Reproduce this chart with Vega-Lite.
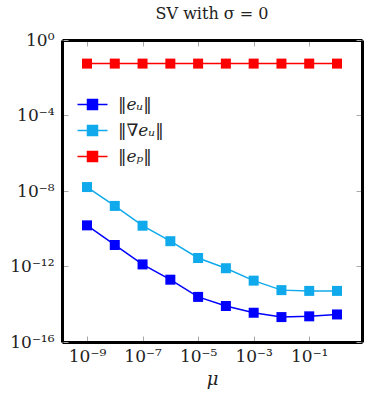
{
  "$schema": "https://vega.github.io/schema/vega-lite/v6.json",
  "width": 300,
  "height": 302,
  "autosize": {"type": "none"},
  "padding": {"left": 62, "top": 40, "right": 4, "bottom": 55},
  "title": {"text": "SV with σ = 0", "font": "DejaVu Serif", "fontSize": 16, "fontWeight": "normal", "offset": 9, "color": "#222"},
  "config": {
    "view": {"stroke": null},
    "font": "DejaVu Serif",
    "axis": {"grid": false, "domain": true, "domainColor": "black", "domainWidth": 3, "tickColor": "#aaaaaa", "tickWidth": 1, "labelFont": "DejaVu Serif", "labelFontSize": 17, "labelColor": "#222", "titleFont": "DejaVu Serif", "titleColor": "#222"}
  },
  "data": {"values": [
    {"mu": 1e-9, "s": "‖eᵤ‖", "v": 1.51e-10},
    {"mu": 1e-8, "s": "‖eᵤ‖", "v": 1.38e-11},
    {"mu": 1e-7, "s": "‖eᵤ‖", "v": 1.29e-12},
    {"mu": 1e-6, "s": "‖eᵤ‖", "v": 2.0e-13},
    {"mu": 1e-5, "s": "‖eᵤ‖", "v": 2.45e-14},
    {"mu": 1e-4, "s": "‖eᵤ‖", "v": 8.1e-15},
    {"mu": 1e-3, "s": "‖eᵤ‖", "v": 3.55e-15},
    {"mu": 1e-2, "s": "‖eᵤ‖", "v": 2.09e-15},
    {"mu": 1e-1, "s": "‖eᵤ‖", "v": 2.29e-15},
    {"mu": 1, "s": "‖eᵤ‖", "v": 2.88e-15},
    {"mu": 1e-9, "s": "‖∇eᵤ‖", "v": 1.62e-8},
    {"mu": 1e-8, "s": "‖∇eᵤ‖", "v": 1.62e-9},
    {"mu": 1e-7, "s": "‖∇eᵤ‖", "v": 1.45e-10},
    {"mu": 1e-6, "s": "‖∇eᵤ‖", "v": 2.19e-11},
    {"mu": 1e-5, "s": "‖∇eᵤ‖", "v": 2.82e-12},
    {"mu": 1e-4, "s": "‖∇eᵤ‖", "v": 8.1e-13},
    {"mu": 1e-3, "s": "‖∇eᵤ‖", "v": 1.78e-13},
    {"mu": 1e-2, "s": "‖∇eᵤ‖", "v": 5.6e-14},
    {"mu": 1e-1, "s": "‖∇eᵤ‖", "v": 5.1e-14},
    {"mu": 1, "s": "‖∇eᵤ‖", "v": 5.1e-14},
    {"mu": 1e-9, "s": "‖eₚ‖", "v": 0.0562},
    {"mu": 1e-8, "s": "‖eₚ‖", "v": 0.0562},
    {"mu": 1e-7, "s": "‖eₚ‖", "v": 0.0562},
    {"mu": 1e-6, "s": "‖eₚ‖", "v": 0.0562},
    {"mu": 1e-5, "s": "‖eₚ‖", "v": 0.0562},
    {"mu": 1e-4, "s": "‖eₚ‖", "v": 0.0562},
    {"mu": 1e-3, "s": "‖eₚ‖", "v": 0.0562},
    {"mu": 1e-2, "s": "‖eₚ‖", "v": 0.0562},
    {"mu": 1e-1, "s": "‖eₚ‖", "v": 0.0562},
    {"mu": 1, "s": "‖eₚ‖", "v": 0.0562}
  ]},
  "resolve": {"axis": {"x": "independent", "y": "independent"}},
  "layer": [
    {
      "mark": {"type": "line", "strokeWidth": 1.5, "point": {"shape": "square", "size": 100, "filled": true, "opacity": 1}},
      "encoding": {
        "x": {"field": "mu", "type": "quantitative",
              "scale": {"type": "log", "domain": [1.2589e-10, 7.943], "nice": false},
              "axis": {"values": [1e-9, 1e-7, 1e-5, 1e-3, 1e-1], "tickSize": -6, "labelPadding": 12,
                       "labelExpr": "datum.value < 5e-9 ? '10⁻⁹' : datum.value < 5e-7 ? '10⁻⁷' : datum.value < 5e-5 ? '10⁻⁵' : datum.value < 5e-3 ? '10⁻³' : '10⁻¹'",
                       "title": "μ", "titleFontStyle": "italic", "titleFontWeight": "normal", "titleFontSize": 18, "titlePadding": 6}},
        "y": {"field": "v", "type": "quantitative",
              "scale": {"type": "log", "domain": [1e-16, 1], "nice": false},
              "axis": {"values": [1e-16, 1e-12, 1e-8, 1e-4, 1], "tickSize": -6, "labelPadding": 14,
                       "labelExpr": "datum.value < 1e-14 ? '10⁻¹⁶' : datum.value < 1e-10 ? '10⁻¹²' : datum.value < 1e-6 ? '10⁻⁸' : datum.value < 1e-2 ? '10⁻⁴' : '10⁰'",
                       "title": null}},
        "color": {"field": "s", "type": "nominal",
                  "scale": {"domain": ["‖eᵤ‖", "‖∇eᵤ‖", "‖eₚ‖"], "range": ["#0000ff", "#10aaec", "#ff0000"]},
                  "legend": {"title": null, "orient": "none", "legendX": 22, "legendY": 56,
                             "symbolType": "M-3,0L3,0M-1,-1L1,-1L1,1L-1,1Z", "symbolSize": 100, "symbolStrokeWidth": 1.5,
                             "labelFont": "DejaVu Serif", "labelFontSize": 17, "labelFontStyle": "italic", "labelColor": "#222",
                             "labelOffset": 17, "rowPadding": 8, "padding": 0,
                             "encode": {"symbols": {"update": {"fill": {"scale": "color", "field": "value"}, "stroke": {"scale": "color", "field": "value"}, "opacity": {"value": 1}}}}}}
      }
    },
    {
      "mark": {"type": "point", "opacity": 0},
      "encoding": {
        "x": {"field": "mu", "type": "quantitative", "axis": {"orient": "top", "values": [1e-9, 1e-7, 1e-5, 1e-3, 1e-1], "tickSize": -6, "labels": false, "title": null}},
        "y": {"field": "v", "type": "quantitative", "axis": {"orient": "right", "values": [1e-16, 1e-12, 1e-8, 1e-4, 1], "tickSize": -6, "labels": false, "title": null}}
      }
    }
  ]
}
